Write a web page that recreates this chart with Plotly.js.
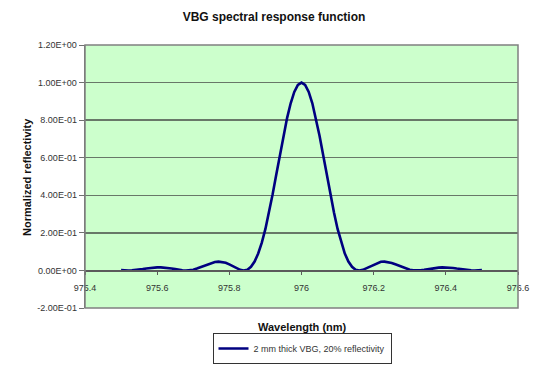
<!DOCTYPE html>
<html>
<head>
<meta charset="utf-8">
<script src="https://cdn.plot.ly/plotly-3.0.1.min.js"></script>
<style>html,body{margin:0;padding:0;background:#fff;}#chart{width:554px;height:369px;}</style>
</head>
<body>
<div id="chart"></div>
<script>
// Wavelength (nm) samples
var wavelength = [
975.50,975.51,975.52,975.53,975.54,975.55,975.56,975.57,975.58,975.59,
975.60,975.61,975.62,975.63,975.64,975.65,975.66,975.67,975.68,975.69,
975.70,975.71,975.72,975.73,975.74,975.75,975.76,975.77,975.78,975.79,
975.80,975.81,975.82,975.83,975.84,975.85,975.86,975.87,975.88,975.89,
975.90,975.91,975.92,975.93,975.94,975.95,975.96,975.97,975.98,975.99,
976.00,976.01,976.02,976.03,976.04,976.05,976.06,976.07,976.08,976.09,
976.10,976.11,976.12,976.13,976.14,976.15,976.16,976.17,976.18,976.19,
976.20,976.21,976.22,976.23,976.24,976.25,976.26,976.27,976.28,976.29,
976.30,976.31,976.32,976.33,976.34,976.35,976.36,976.37,976.38,976.39,
976.40,976.41,976.42,976.43,976.44,976.45,976.46,976.47,976.48,976.49,
976.50];
// Normalized reflectivity
var reflectivity = [
0.002,0.000,0.000,0.001,0.002,0.004,0.007,0.010,0.013,0.015,
0.016,0.016,0.015,0.013,0.010,0.007,0.003,0.001,0.000,0.001,
0.004,0.010,0.017,0.025,0.033,0.040,0.045,0.047,0.046,0.041,
0.032,0.022,0.012,0.003,0.000,0.004,0.019,0.047,0.090,0.148,
0.221,0.308,0.405,0.509,0.615,0.717,0.811,0.890,0.950,0.987,
1.000,0.987,0.950,0.890,0.811,0.717,0.615,0.509,0.405,0.308,
0.221,0.148,0.090,0.047,0.019,0.004,0.000,0.003,0.012,0.022,
0.032,0.041,0.046,0.047,0.045,0.040,0.033,0.025,0.017,0.010,
0.004,0.001,0.000,0.001,0.003,0.007,0.010,0.013,0.015,0.016,
0.016,0.015,0.013,0.010,0.007,0.004,0.002,0.001,0.000,0.000,
0.002];
var yTickVals = [-0.2, 0, 0.2, 0.4, 0.6, 0.8, 1.0, 1.2];
var yTickText = ["-2.00E-01","0.00E+00","2.00E-01","4.00E-01","6.00E-01","8.00E-01","1.00E+00","1.20E+00"];
var xTickVals = [975.4, 975.6, 975.8, 976.0, 976.2, 976.4, 976.6];
var xTickText = ["975.4","975.6","975.8","976","976.2","976.4","976.6"];
var seriesName = "2 mm thick VBG, 20% reflectivity";

var font = "Liberation Sans, Arial, sans-serif";
var trace = {
  x: wavelength, y: reflectivity, type: "scatter", mode: "lines",
  name: seriesName, line: {color: "#000080", width: 2.6}
};
var layout = {
  width: 554, height: 369,
  margin: {l: 85, r: 36, t: 45, b: 61, autoexpand: false},
  paper_bgcolor: "#ffffff", plot_bgcolor: "#ccffcc",
  font: {family: font, color: "#222"},
  title: {text: "<b>VBG spectral response function</b>", x: 274/554, xanchor: "center", y: 1 - 17/369, yanchor: "middle",
          font: {family: font, size: 12, color: "#111"}},
  xaxis: {range: [975.4, 976.6], tickvals: xTickVals, ticktext: xTickText,
          anchor: "free", position: 1/7, showgrid: false, zeroline: false,
          showline: true, linecolor: "#5a5a5a", linewidth: 1.3, automargin: false,
          ticks: "outside", ticklen: 3, tickcolor: "#5a5a5a", ticklabelstandoff: 5,
          tickfont: {family: font, size: 9, color: "#333"}, fixedrange: true},
  yaxis: {range: [-0.2, 1.2], tickvals: yTickVals, ticktext: yTickText, automargin: false,
          showgrid: true, gridcolor: "#687868", gridwidth: 1.4, zeroline: false,
          showline: true, linecolor: "#707070", linewidth: 1.3,
          ticks: "outside", ticklen: 5, tickcolor: "#707070",
          tickfont: {family: font, size: 9, color: "#333"}, fixedrange: true},
  showlegend: true,
  legend: {x: (302 - 85) / 433, xanchor: "center", y: (308 - 348.5) / 263, yanchor: "middle", orientation: "h",
           bgcolor: "#ffffff", bordercolor: "#333", borderwidth: 1,
           font: {family: font, size: 9, color: "#333"}, itemwidth: 30},
  shapes: [{type: "rect", xref: "paper", yref: "paper", x0: 0, x1: 1, y0: 0, y1: 1,
            line: {color: "#808080", width: 1.5}}],
  annotations: [
    {text: "<b>Wavelength (nm)</b>", xref: "paper", yref: "paper", x: (302 - 85) / 433, y: (308 - 327) / 263,
     xanchor: "center", yanchor: "middle", showarrow: false, font: {family: font, size: 11, color: "#111"}},
    {text: "<b>Normalized reflectivity</b>", xref: "paper", yref: "paper", x: (27 - 85) / 433, y: (308 - 177) / 263,
     xanchor: "center", yanchor: "middle", textangle: -90, showarrow: false, font: {family: font, size: 11, color: "#111"}}
  ]
};
Plotly.newPlot("chart", [trace], layout, {displayModeBar: false, staticPlot: true});
</script>
</body>
</html>
